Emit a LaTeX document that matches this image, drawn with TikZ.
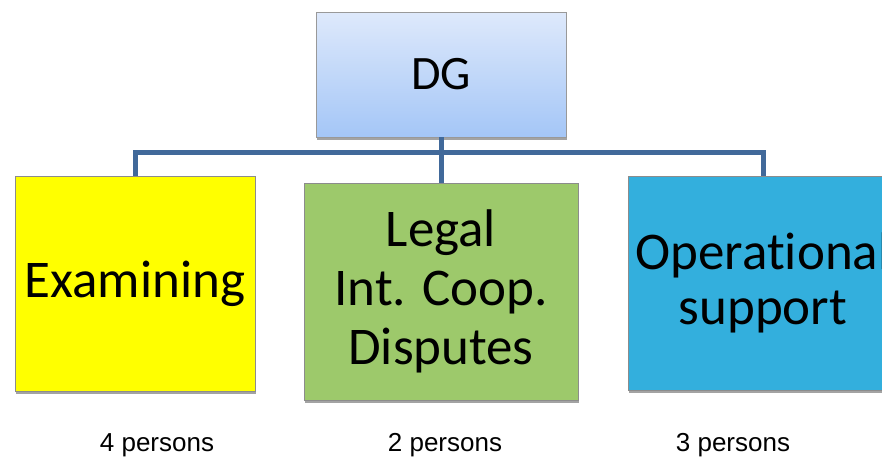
\documentclass[tikz,border=0pt]{standalone}
\usepackage{fontspec}
\setmainfont{Carlito}[Ligatures=NoCommon]
\newfontfamily\countfont{Liberation Sans}
\usetikzlibrary{positioning,shadows}
\definecolor{linkblue}{HTML}{41699A}
\definecolor{examyellow}{HTML}{FFFF00}
\definecolor{legalgreen}{HTML}{9DC96B}
\definecolor{opsblue}{HTML}{33AFDD}
\definecolor{dgtop}{HTML}{DEE9FB}
\definecolor{dgbottom}{HTML}{A4C6F7}

\begin{document}
\begin{tikzpicture}[x=1pt,y=-1pt,font=\fontsize{53}{59}\selectfont]
\tikzstyle{unit}=[%
minimum height=215pt,
draw=black!45, line width=0.8pt,
align=center,
drop shadow={shadow xshift=1pt,shadow yshift=-2.5pt,opacity=0.6,fill=black!60}
]
\tikzstyle{link}=[draw=linkblue, line width=5pt]
\tikzstyle{count}=[font=\countfont\fontsize{26}{30}\selectfont]
   \useasboundingbox (0,0) rectangle (882,458);
   \clip (0,0) rectangle (882,458);
   \node[unit, minimum width=250pt, minimum height=125pt, top color=dgtop, bottom color=dgbottom, draw=black!40, font=\fontsize{48}{54}\selectfont] (dg) at (441,74.5) {DG};
   \node[unit, fill=examyellow, minimum width=240pt] (exam) at (135,283.5) {Examining};
   \node[unit, fill=legalgreen, minimum width=274pt, minimum height=217pt] (legal) at (441,291.5) {Legal\\Int. Coop.\\Disputes};
   \node[unit, fill=opsblue, minimum width=270pt, minimum height=214pt, font=\fontsize{53}{55}\selectfont] (ops) at (763,283) {Operational\\support};
   \coordinate (bar) at (441,152);
   \draw[link] (dg.south) -- (bar);
   \draw[link] (bar) -| (exam.north);
   \draw[link] (bar) -- (legal.north);
   \draw[link] (bar) -| (ops.north);
   \node[count] (examcount) at (157,445) {4 persons};
   \node[count] (legalcount) at (445,445) {2 persons};
   \node[count] (opscount) at (733,445) {3 persons};
\end{tikzpicture}
\end{document}
